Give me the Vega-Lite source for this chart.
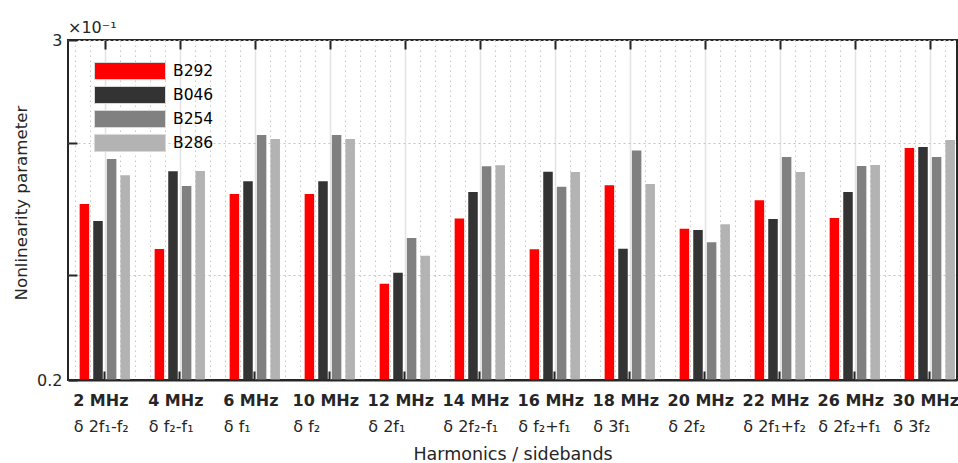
{
  "$schema": "https://vega.github.io/schema/vega-lite/v6.json",
  "width": 889,
  "height": 340,
  "autosize": {"type": "none"},
  "padding": {"left": 68, "top": 40, "right": 1, "bottom": 83},
  "background": "white",
  "config": {
    "font": "DejaVu Sans",
    "view": {"stroke": "#262626", "strokeWidth": 2}
  },
  "title": {"text": "×10⁻¹", "anchor": "start", "frame": "group", "fontSize": 16, "fontWeight": "normal", "color": "#262626", "baseline": "alphabetic", "offset": 7, "dy": 24},
  "data": {
    "values": [
      {"freq": "2 MHz", "series": "B292", "value": 1.649},
      {"freq": "2 MHz", "series": "B046", "value": 1.509},
      {"freq": "2 MHz", "series": "B254", "value": 2.02},
      {"freq": "2 MHz", "series": "B286", "value": 1.886},
      {"freq": "4 MHz", "series": "B292", "value": 1.279},
      {"freq": "4 MHz", "series": "B046", "value": 1.919},
      {"freq": "4 MHz", "series": "B254", "value": 1.798},
      {"freq": "4 MHz", "series": "B286", "value": 1.921},
      {"freq": "6 MHz", "series": "B292", "value": 1.732},
      {"freq": "6 MHz", "series": "B046", "value": 1.836},
      {"freq": "6 MHz", "series": "B254", "value": 2.218},
      {"freq": "6 MHz", "series": "B286", "value": 2.185},
      {"freq": "10 MHz", "series": "B292", "value": 1.732},
      {"freq": "10 MHz", "series": "B046", "value": 1.836},
      {"freq": "10 MHz", "series": "B254", "value": 2.218},
      {"freq": "10 MHz", "series": "B286", "value": 2.185},
      {"freq": "12 MHz", "series": "B292", "value": 0.993},
      {"freq": "12 MHz", "series": "B046", "value": 1.084},
      {"freq": "12 MHz", "series": "B254", "value": 1.369},
      {"freq": "12 MHz", "series": "B286", "value": 1.224},
      {"freq": "14 MHz", "series": "B292", "value": 1.531},
      {"freq": "14 MHz", "series": "B046", "value": 1.748},
      {"freq": "14 MHz", "series": "B254", "value": 1.96},
      {"freq": "14 MHz", "series": "B286", "value": 1.968},
      {"freq": "16 MHz", "series": "B292", "value": 1.276},
      {"freq": "16 MHz", "series": "B046", "value": 1.915},
      {"freq": "16 MHz", "series": "B254", "value": 1.792},
      {"freq": "16 MHz", "series": "B286", "value": 1.913},
      {"freq": "18 MHz", "series": "B292", "value": 1.803},
      {"freq": "18 MHz", "series": "B046", "value": 1.281},
      {"freq": "18 MHz", "series": "B254", "value": 2.091},
      {"freq": "18 MHz", "series": "B286", "value": 1.814},
      {"freq": "20 MHz", "series": "B292", "value": 1.446},
      {"freq": "20 MHz", "series": "B046", "value": 1.435},
      {"freq": "20 MHz", "series": "B254", "value": 1.334},
      {"freq": "20 MHz", "series": "B286", "value": 1.482},
      {"freq": "22 MHz", "series": "B292", "value": 1.68},
      {"freq": "22 MHz", "series": "B046", "value": 1.526},
      {"freq": "22 MHz", "series": "B254", "value": 2.036},
      {"freq": "22 MHz", "series": "B286", "value": 1.913},
      {"freq": "26 MHz", "series": "B292", "value": 1.534},
      {"freq": "26 MHz", "series": "B046", "value": 1.748},
      {"freq": "26 MHz", "series": "B254", "value": 1.962},
      {"freq": "26 MHz", "series": "B286", "value": 1.97},
      {"freq": "30 MHz", "series": "B292", "value": 2.11},
      {"freq": "30 MHz", "series": "B046", "value": 2.119},
      {"freq": "30 MHz", "series": "B254", "value": 2.036},
      {"freq": "30 MHz", "series": "B286", "value": 2.176}
    ]
  },
  "layer": [
    {
      "mark": {"type": "bar"},
      "encoding": {
        "x": {
          "field": "freq", "type": "nominal", "sort": null,
          "scale": {"paddingInner": 0.2747, "paddingOuter": 0.064, "align": 1},
          "axis": {
            "orient": "bottom", "title": null, "labelAngle": 0,
            "labelFontWeight": "bold", "labelFontSize": 16, "labelColor": "#262626",
            "labelPadding": 21.5, "labelOffset": -4, "labelOverlap": false,
            "ticks": true, "tickSize": -9, "tickWidth": 2, "tickColor": "#262626",
            "domain": true, "domainColor": "#262626", "domainWidth": 2,
            "grid": false, "zindex": 1
          }
        },
        "xOffset": {
          "field": "series", "type": "nominal",
          "sort": ["B292", "B046", "B254", "B286"],
          "scale": {"paddingInner": 0.3, "paddingOuter": 0.15}
        },
        "y": {
          "field": "value", "type": "quantitative",
          "scale": {"domain": [0.2, 3], "zero": false, "nice": false},
          "axis": {
            "title": "Nonlinearity parameter", "titleFontSize": 16.7, "titleFontWeight": "normal",
            "titleColor": "#262626", "titleX": -42, "titleY": 162.5, "titleBaseline": "alphabetic", "titleAlign": "center", "titleAngle": -90,
            "values": [0.2, 1.065, 2.148, 3],
            "labelExpr": "datum.value == 3 ? '3' : (datum.value == 0.2 ? '0.2' : '')",
            "labelFontSize": 16, "labelColor": "#262626", "labelPadding": 15,
            "ticks": true, "tickSize": -9, "tickWidth": 2, "tickColor": "#262626",
            "domain": false,
            "grid": true, "gridColor": "#c4c4c4", "gridDash": [2, 3], "gridWidth": 1
          }
        },
        "y2": {"datum": 0.2},
        "color": {
          "field": "series", "type": "nominal",
          "sort": ["B292", "B046", "B254", "B286"],
          "scale": {"domain": ["B292", "B046", "B254", "B286"], "range": ["#ff0000", "#333333", "#808080", "#b3b3b3"]},
          "legend": {
            "title": null, "orient": "none", "legendX": 26, "legendY": 21,
            "padding": 0, "symbolType": "M-1,-0.24H1V0.24H-1Z", "symbolSize": 5041,
            "symbolStrokeColor": "#d9d9d9", "symbolStrokeWidth": 1, "symbolOpacity": 1,
            "clipHeight": 20, "rowPadding": 4, "labelOffset": 7,
            "labelFontSize": 15.5, "labelColor": "#000000"
          }
        }
      }
    },
    {
      "mark": {"type": "rule", "opacity": 0},
      "encoding": {
        "x": {
          "datum": 0, "type": "quantitative",
          "scale": {"domain": [-0.4907, 11.3627], "nice": false, "zero": false},
          "axis": {
            "orient": "bottom", "values": [0, 1, 2, 3, 4, 5, 6, 7, 8, 9, 10, 11],
            "labelExpr": "['δ 2f₁-f₂', 'δ f₂-f₁', 'δ f₁', 'δ f₂', 'δ 2f₁', 'δ 2f₂-f₁', 'δ f₂+f₁', 'δ 3f₁', 'δ 2f₂', 'δ 2f₁+f₂', 'δ 2f₂+f₁', 'δ 3f₂'][datum.value]",
            "labelAlign": "left",
            "labelOffset": {"condition": {"test": "datum.value <= 2", "value": -31.5}, "value": -37},
            "labelFontSize": 16, "labelColor": "#262626", "labelPadding": 38.5,
            "labelOverlap": false, "labelFlush": false,
            "ticks": false, "domain": false, "grid": false,
            "title": "Harmonics / sidebands", "titleFontSize": 17.5, "titleFontWeight": "normal",
            "titleColor": "#262626", "titleY": 79, "titleBaseline": "alphabetic"
          }
        }
      }
    },
    {
      "mark": {"type": "rule", "opacity": 0},
      "encoding": {
        "x": {
          "datum": 0, "type": "quantitative",
          "scale": {"domain": [-0.4907, 11.3627], "nice": false, "zero": false},
          "axis": {
            "orient": "top", "title": null,
            "values": [-0.4, -0.2, 0.2, 0.4, 0.6, 0.8, 1.2, 1.4, 1.6, 1.8, 2.2, 2.4, 2.6, 2.8, 3.2, 3.4, 3.6, 3.8, 4.2, 4.4, 4.6, 4.8, 5.2, 5.4, 5.6, 5.8, 6.2, 6.4, 6.6, 6.8, 7.2, 7.4, 7.6, 7.8, 8.2, 8.4, 8.6, 8.8, 9.2, 9.4, 9.6, 9.8, 10.2, 10.4, 10.6, 10.8, 11.2],
            "labels": false, "ticks": false, "domain": false,
            "grid": true, "gridColor": "#c8c8c8", "gridDash": [1.5, 3.5], "gridWidth": 1
          }
        }
      }
    },
    {
      "mark": {"type": "rule", "opacity": 0},
      "encoding": {
        "x": {
          "datum": 0, "type": "quantitative",
          "scale": {"domain": [-0.4907, 11.3627], "nice": false, "zero": false},
          "axis": {
            "orient": "top", "title": null,
            "values": [0, 1, 2, 3, 4, 5, 6, 7, 8, 9, 10, 11],
            "labels": false, "domain": false,
            "ticks": true, "tickSize": -9, "tickWidth": 2, "tickColor": "#262626",
            "grid": true, "gridColor": "#e3e3e3", "gridWidth": 1.5
          }
        }
      }
    }
  ],
  "resolve": {"scale": {"x": "independent"}, "axis": {"x": "independent"}}
}
